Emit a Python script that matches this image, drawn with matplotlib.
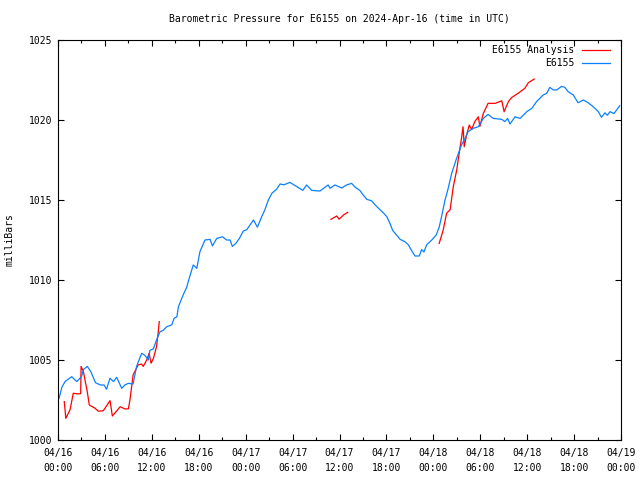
import matplotlib
matplotlib.use("Agg")
import matplotlib.pyplot as plt
from matplotlib.ticker import MultipleLocator, FixedLocator
import numpy as np

# hours since 2024-04-16 00:00 UTC
obs_hours = [0.13, 0.5, 0.9, 1.75, 2.4, 3.0, 3.25, 3.75, 4.2, 4.8, 5.4, 5.9, 6.2, 6.65, 7.1, 7.5,
             8.15, 8.55, 9.0, 9.6, 10.05, 10.7, 11.1, 11.55, 11.75, 12.2, 12.6, 13.05, 13.45, 13.9,
             14.55, 14.85, 15.2, 15.4, 15.75, 16.0, 16.45, 16.9, 17.3, 17.75, 18.15, 18.8, 19.45,
             19.75, 20.3, 21.05, 21.55, 22.0, 22.3, 22.75, 23.2, 23.7, 24.15, 25.0, 25.5, 26.05,
             26.45, 26.9, 27.35, 27.95, 28.4, 28.9, 29.65, 30.5, 31.3, 31.8, 32.45, 33.5, 34.55,
             34.8, 35.4, 36.3, 36.9, 37.55, 38.0, 38.6, 39.05, 39.5, 40.1, 40.55, 40.95, 41.6,
             42.05, 42.45, 42.8, 43.3, 43.75, 44.35, 44.8, 45.15, 45.65, 46.2, 46.5, 46.8, 47.15,
             47.8, 48.35, 48.75, 49.05, 49.5, 49.9, 50.35, 50.9, 51.2, 51.6, 52.05, 52.45, 53.1,
             53.75, 54.4, 55.0, 55.65, 56.75, 57.15, 57.5, 57.8, 58.45, 59.1, 59.95, 60.6, 61.2,
             62.05, 62.5, 62.9, 63.35, 63.8, 64.4, 64.8, 65.25, 65.9, 66.5, 67.2, 67.8, 68.45,
             69.1, 69.5, 69.95, 70.25, 70.6, 71.1, 71.85]
obs_press = [1002.6, 1003.3, 1003.65, 1003.96, 1003.65, 1003.96, 1004.4, 1004.6, 1004.27, 1003.58,
             1003.44, 1003.44, 1003.17, 1003.86, 1003.65, 1003.92, 1003.23, 1003.44, 1003.54,
             1003.5, 1004.6, 1005.42, 1005.3, 1005.0, 1005.6, 1005.7, 1006.25, 1006.77, 1006.85,
             1007.08, 1007.2, 1007.6, 1007.7, 1008.33, 1008.75, 1009.06, 1009.54, 1010.3, 1010.94,
             1010.73, 1011.77, 1012.5, 1012.54, 1012.13, 1012.6, 1012.7, 1012.5, 1012.5, 1012.1,
             1012.3, 1012.6, 1013.06, 1013.15, 1013.75, 1013.3, 1013.96, 1014.38, 1015.0, 1015.42,
             1015.67, 1016.0, 1015.95, 1016.1, 1015.85, 1015.6, 1015.94, 1015.6, 1015.56, 1015.94,
             1015.73, 1015.94, 1015.75, 1015.94, 1016.04, 1015.8, 1015.6, 1015.3, 1015.04, 1014.95,
             1014.7, 1014.5, 1014.2, 1013.96, 1013.54, 1013.1, 1012.8, 1012.54, 1012.4, 1012.2,
             1011.9, 1011.5, 1011.5, 1011.9, 1011.75, 1012.2, 1012.5, 1012.8, 1013.3, 1013.96,
             1015.0, 1015.73, 1016.67, 1017.5, 1017.9, 1018.44, 1018.85, 1019.27, 1019.48, 1019.58,
             1020.1, 1020.35, 1020.1, 1020.04, 1019.9, 1020.1, 1019.75, 1020.2, 1020.1, 1020.52,
             1020.73, 1021.15, 1021.56, 1021.67, 1022.04, 1021.88, 1021.88, 1022.1, 1022.05,
             1021.77, 1021.56, 1021.08, 1021.25, 1021.08, 1020.83, 1020.52, 1020.17, 1020.45,
             1020.3, 1020.52, 1020.4, 1020.9]

ana1_hours = [0.8, 1.0, 1.55, 1.95, 2.6, 2.9, 2.95, 3.25, 3.75, 4.0, 4.75, 5.15, 5.8, 6.65, 6.95,
              7.3, 7.95, 8.55, 9.0, 9.2, 9.5, 9.6, 10.25, 10.7, 10.9, 11.35, 11.65, 11.9, 12.2,
              12.6, 12.8, 12.95]
ana1_press = [1002.4, 1001.35, 1001.9, 1002.92, 1002.88, 1002.9, 1004.6, 1004.27, 1003.0, 1002.19,
              1001.98, 1001.8, 1001.83, 1002.46, 1001.5, 1001.7, 1002.08, 1001.94, 1001.95,
              1002.5, 1003.65, 1004.06, 1004.69, 1004.75, 1004.6, 1005.0, 1005.42, 1004.8, 1005.1,
              1005.83, 1006.67, 1007.4]
ana2_hours = [34.9, 35.65, 35.95, 36.5, 37.05]
ana2_press = [1013.79, 1014.0, 1013.8, 1014.06, 1014.23]
ana3_hours = [48.75, 49.25, 49.7, 50.15, 50.55, 51.0, 51.3, 51.6, 51.8, 51.95, 52.25, 52.6, 52.9,
              53.3, 53.75, 53.95, 54.4, 55.0, 55.9, 56.75, 57.05, 57.6, 58.0, 58.85, 59.7, 60.15,
              60.9]
ana3_press = [1012.29, 1013.1, 1014.17, 1014.4, 1015.83, 1016.9, 1017.9, 1018.85, 1019.58, 1018.33,
              1019.06, 1019.69, 1019.4, 1019.9, 1020.2, 1019.6, 1020.42, 1021.04, 1021.04, 1021.2,
              1020.52, 1021.15, 1021.4, 1021.67, 1021.98, 1022.33, 1022.56]

tick_hours = [0, 6, 12, 18, 24, 30, 36, 42, 48, 54, 60, 66, 72]
tick_labels = ["04/16\n00:00", "04/16\n06:00", "04/16\n12:00", "04/16\n18:00",
               "04/17\n00:00", "04/17\n06:00", "04/17\n12:00", "04/17\n18:00",
               "04/18\n00:00", "04/18\n06:00", "04/18\n12:00", "04/18\n18:00",
               "04/19\n00:00"]
y_ticks = [1000, 1005, 1010, 1015, 1020, 1025]

RED = "#ff0000"
BLUE = "#0a80ff"
FONT = "DejaVu Sans Mono"
FS = 7

plt.rcParams['font.family'] = [FONT]
fig = plt.figure(figsize=(6.4, 4.8), dpi=100)
ax = fig.add_axes([58/640, 1-440/480, (621-58)/640, 400/480])

for h, p in [(ana1_hours, ana1_press), (ana2_hours, ana2_press), (ana3_hours, ana3_press)]:
    ax.plot(h, p, color=RED, lw=0.9)
ax.plot(obs_hours, obs_press, color=BLUE, lw=0.9)

ax.set_xlim(0, 72)
ax.set_ylim(1000, 1025)
ax.xaxis.set_major_locator(FixedLocator(tick_hours))
ax.set_xticklabels(tick_labels, fontsize=FS, linespacing=1.6)
ax.xaxis.set_minor_locator(MultipleLocator(3))
ax.set_yticks(y_ticks)
ax.set_yticklabels([str(v) for v in y_ticks], fontsize=FS)
ax.tick_params(axis='both', which='major', direction='in', length=4, width=0.8,
               top=True, right=True, pad=4)
ax.tick_params(axis='x', which='major', pad=6)
ax.tick_params(axis='both', which='minor', direction='in', length=2, width=0.8,
               top=True, right=True)
ax.tick_params(axis='y', which='minor', length=0)
for s in ax.spines.values():
    s.set_linewidth(0.8)

ax.text(0.5, 1 + 21/400, "Barometric Pressure for E6155 on 2024-Apr-16 (time in UTC)",
        transform=ax.transAxes, ha='center', va='center', fontsize=FS)
fig.text(10/640, 1-240/480, "milliBars", rotation=90, ha='center', va='center', fontsize=FS)

# legend
lx_text = (574-58)/563
lx0 = (582-58)/563
lx1 = (610-58)/563
for i, (lab, col) in enumerate([("E6155 Analysis", RED), ("E6155", BLUE)]):
    yy = 1 - (50 + 13*i - 40)/400
    ax.text(lx_text, yy, lab, transform=ax.transAxes, ha='right', va='center', fontsize=FS)
    ax.plot([lx0, lx1], [yy, yy], transform=ax.transAxes, color=col, lw=0.9)

fig.savefig("out.png", dpi=100)
